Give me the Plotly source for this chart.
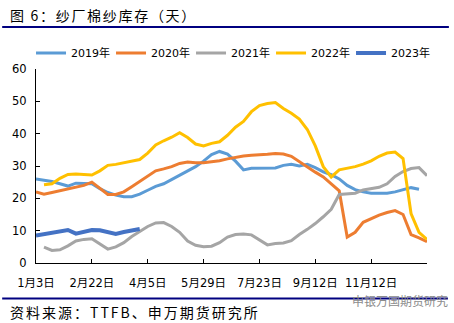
import plotly.graph_objects as go

# ---------------- data ----------------
tick_labels = ["1月3日", "2月22日", "4月5日", "5月29日", "7月23日", "9月12日", "11月12日"]
tick_step = 7
n_points = 50

series_names = ["2019年", "2020年", "2021年", "2022年", "2023年"]

y2019 = [26.0, 25.7, 25.2, 24.5, 23.8, 24.7, 24.7, 24.5, 23.0, 21.8,
         21.0, 20.5, 20.5, 21.3, 22.5, 23.7, 24.5, 25.8, 27.3, 28.6,
         29.8, 31.5, 33.5, 34.5, 33.7, 31.5, 28.8, 29.3, 29.3, 29.3,
         29.4, 30.2, 30.5, 30.0, 30.5, 29.5, 28.2, 27.3, 26.0, 24.0,
         22.7, 22.0, 21.6, 21.6, 21.6, 22.0, 22.6, 23.3, 22.8, None]

y2020 = [22.0, 21.3, 21.8, 22.3, 22.8, 23.3, 24.0, 25.0, 23.2, 21.2,
         21.2, 22.0, 23.6, 25.2, 27.0, 28.5, 29.1, 29.8, 30.8, 31.2,
         31.0, 31.0, 31.3, 31.6, 32.2, 32.7, 33.1, 33.3, 33.4, 33.6,
         33.9, 33.7, 33.0, 31.3, 29.6, 28.1, 26.6, 24.3, 22.3, 8.0,
         9.5, 12.6, 13.8, 14.8, 15.6, 16.2, 15.0, 8.8, 7.8, 6.6]

y2021 = [None, 4.9, 3.9, 4.1, 5.3, 6.8, 7.3, 7.5, 5.8, 4.3,
         5.0, 6.3, 8.2, 9.8, 11.3, 12.4, 12.5, 11.3, 9.5, 6.8,
         5.5, 5.0, 5.2, 6.3, 8.0, 8.8, 9.0, 8.7, 7.1, 5.6,
         6.0, 6.2, 6.9, 8.8, 10.4, 12.2, 14.3, 16.6, 21.2, 21.3,
         21.6, 22.6, 22.9, 23.4, 24.5, 26.8, 28.3, 29.2, 29.5, 27.0]

y2022 = [None, 24.2, 24.5, 26.2, 27.4, 27.5, 27.3, 27.2, 28.5, 30.2,
         30.5, 31.0, 31.4, 32.0, 34.0, 36.5, 37.8, 38.9, 40.3, 38.8,
         36.8, 36.2, 37.0, 37.5, 39.5, 42.0, 43.8, 46.8, 48.7, 49.3,
         49.6, 47.8, 46.3, 44.5, 41.3, 36.2, 29.8, 26.6, 28.8, 29.3,
         29.8, 30.6, 31.6, 33.0, 34.0, 34.3, 32.3, 15.3, 9.5, 7.3]

y2023 = [8.5, 8.9, 9.3, 9.7, 10.2, 9.1, 9.6, 10.2, 10.1, 9.6,
         9.0, 9.6, 9.9, 10.5]

series_values = [y2019, y2020, y2021, y2022, y2023]
series_colors = ["#5B9BD5", "#ED7D31", "#A5A5A5", "#FFC000", "#4472C4"]
series_widths = [3, 3, 3, 3, 4]

title_text = "图 6：纱厂棉纱库存（天）"
source_text = "资料来源：TTFB、申万期货研究所"
watermark_text = "申银万国期货研究"

# ---------------- layout geometry (pixels) ----------------
W, H = 454, 323
L, R, T, B = 34, 427, 69, 263


def xp(px):
    return (px - L) / (R - L)


def yp(py):
    return (B - py) / (B - T)


fig = go.Figure()
for name, vals, col, lw in zip(series_names, series_values, series_colors, series_widths):
    fig.add_trace(go.Scatter(
        x=list(range(len(vals))), y=vals, name=name, mode="lines",
        line=dict(color=col, width=lw), connectgaps=False,
    ))

tick_font = dict(family="DejaVu Sans, Noto Sans CJK SC", size=11.5, color="#000000")

fig.update_layout(
    width=W, height=H,
    margin=dict(l=L, r=W - R, t=T, b=H - B, pad=0),
    paper_bgcolor="white", plot_bgcolor="white",
    showlegend=True,
    legend=dict(
        orientation="h", x=xp(29), xanchor="left", y=yp(53), yanchor="middle",
        font=dict(family="DejaVu Sans, Noto Sans CJK SC", size=11, color="#000000"),
        entrywidth=35, entrywidthmode="pixels", bgcolor="rgba(0,0,0,0)",
        itemclick=False, itemdoubleclick=False,
    ),
    xaxis=dict(
        range=[0, n_points - 1],
        tickmode="array",
        tickvals=[i * tick_step for i in range(len(tick_labels))],
        ticktext=tick_labels,
        ticks="inside", ticklen=4, tickcolor="#000000", tickwidth=1,
        ticklabelstandoff=9,
        showline=True, linecolor="#000000", linewidth=1,
        showgrid=False, zeroline=False, tickfont=tick_font,
    ),
    yaxis=dict(
        range=[0, 60], dtick=10, tick0=0,
        ticks="inside", ticklen=4, tickcolor="#000000", tickwidth=1,
        ticklabelstandoff=6,
        showline=True, linecolor="#000000", linewidth=1,
        showgrid=False, zeroline=False, tickfont=tick_font,
    ),
)

# header / footer rules
fig.add_shape(type="line", xref="paper", yref="paper",
              x0=xp(0), x1=xp(449), y0=yp(27), y1=yp(27),
              line=dict(color="#000080", width=2))
fig.add_shape(type="line", xref="paper", yref="paper",
              x0=xp(0), x1=xp(448), y0=yp(298.5), y1=yp(298.5),
              line=dict(color="#000080", width=2))

fig.add_annotation(
    xref="paper", yref="paper", x=xp(6), y=yp(15), xanchor="left", yanchor="middle",
    showarrow=False,
    text='<span style="letter-spacing:1.7px">' + title_text + '</span>',
    font=dict(family="Noto Sans CJK SC", size=14, color="#000000"),
)
fig.add_annotation(
    xref="paper", yref="paper", x=xp(6), y=yp(312), xanchor="left", yanchor="middle",
    showarrow=False,
    text='<span style="letter-spacing:2px">' + source_text + '</span>',
    font=dict(family="Noto Sans CJK SC", size=14, color="#000000"),
)
fig.add_annotation(
    xref="paper", yref="paper", x=xp(350), y=yp(300), xanchor="left", yanchor="middle",
    showarrow=False, text=watermark_text,
    font=dict(family="Noto Sans CJK SC", size=12, color="#8c8c8c"),
)

fig.write_html("out.html")
